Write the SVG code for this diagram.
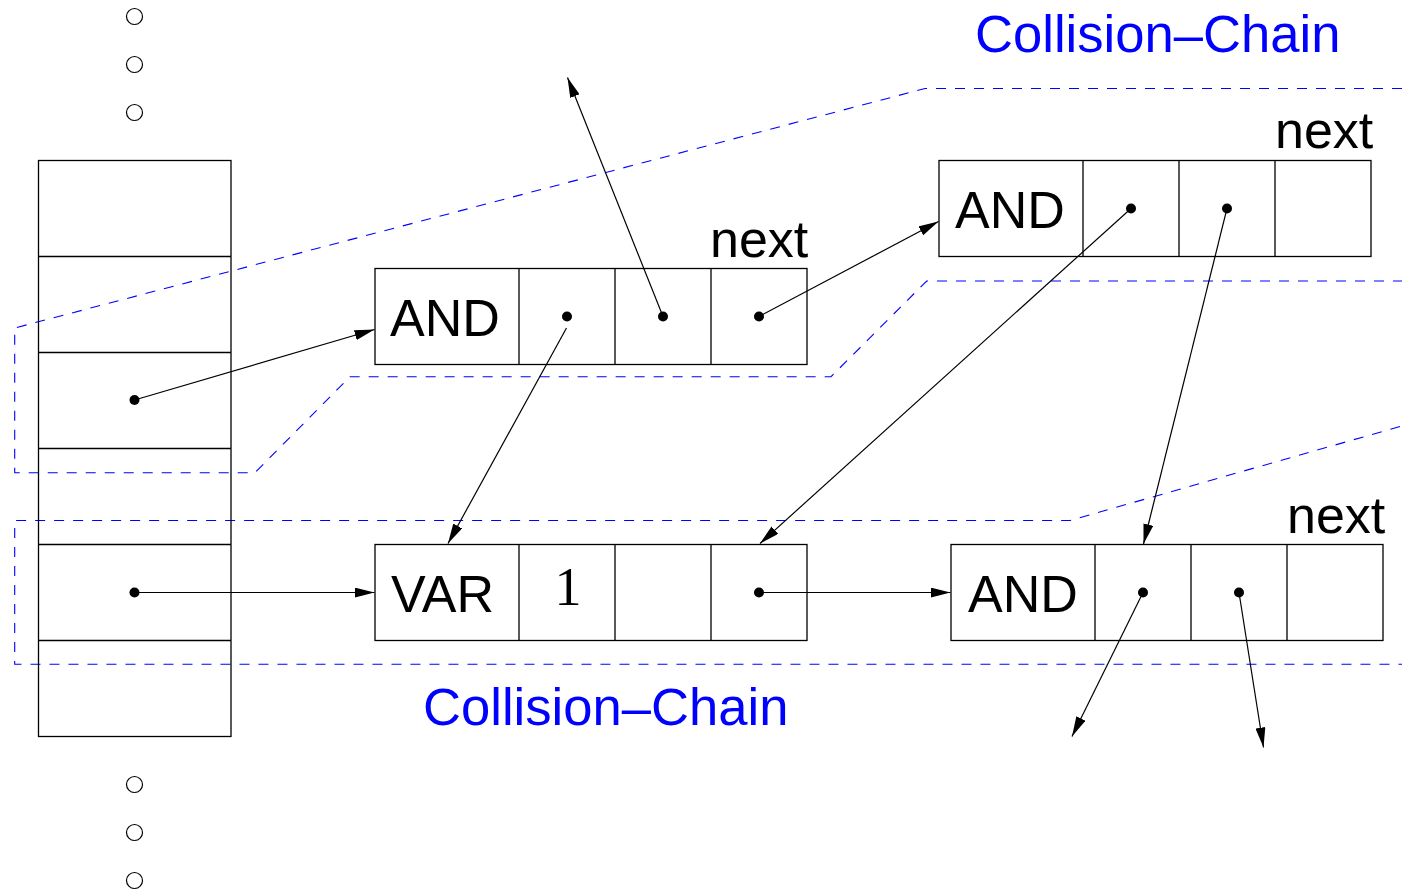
<svg xmlns="http://www.w3.org/2000/svg" width="1402" height="893" viewBox="0 0 1402 893">
<defs>
<style>
.box{fill:#fff;stroke:#000;stroke-width:1.3}
.tbl{fill:none;stroke:#000;stroke-width:1.3}
.cell{fill:none;stroke:#000;stroke-width:1.3}
.lbl{font-family:"Liberation Sans",Arial,sans-serif;font-size:52px;fill:#000}
.num{font-family:"Liberation Serif","Times New Roman",serif;font-size:54px;fill:#000}
.chain{font-family:"Liberation Sans",Arial,sans-serif;font-size:52.6px;fill:#0000ff}
.dash{fill:none;stroke:#0000ff;stroke-width:1.1;stroke-dasharray:10 9}
.arr{fill:none;stroke:#000;stroke-width:1.2;marker-end:url(#ah)}
.dot{fill:#000}
.ring{fill:none;stroke:#000;stroke-width:1.2}
</style>
<marker id="ah" viewBox="0 0 20 10" refX="20" refY="5" markerWidth="20" markerHeight="10" orient="auto" markerUnits="userSpaceOnUse">
<path d="M0,0 L20,5 L0,10 z" fill="#000"/>
</marker>
</defs>
<rect width="1402" height="893" fill="#fff"/>

<g id="dashed-chains">
<path class="dash" d="M1402,88.5 L925,88.5 L14.7,328 L14.7,472.7 L255,472.7 L350,376.7 L831,376.7 L926.7,281 L1402,281"/>
<path class="dash" d="M1400,426.5 L1070,520.5 L14.7,520.5 L14.7,664.3 L1402,664.3"/>
</g>

<g id="hash-table">
<rect class="tbl" x="38.5" y="160.5" width="192.5" height="576"/>
<path class="cell" d="M38.5,256.5 H231 M38.5,352.5 H231 M38.5,448.5 H231 M38.5,544.5 H231 M38.5,640.5 H231"/>
<circle class="dot" cx="134.5" cy="400" r="5"/>
<circle class="dot" cx="134.5" cy="592.5" r="5"/>
</g>

<g id="ellipsis-top">
<circle class="ring" cx="134.5" cy="16.5" r="8"/>
<circle class="ring" cx="134.5" cy="64.5" r="8"/>
<circle class="ring" cx="134.5" cy="112.5" r="8"/>
</g>
<g id="ellipsis-bottom">
<circle class="ring" cx="134.5" cy="784.5" r="8"/>
<circle class="ring" cx="134.5" cy="832.5" r="8"/>
<circle class="ring" cx="134.5" cy="880.5" r="8"/>
</g>

<g id="node-and-1">
<rect class="box" x="375" y="268.5" width="432" height="96"/>
<path class="cell" d="M519,268.5 V364.5 M615,268.5 V364.5 M711,268.5 V364.5"/>
<text class="lbl" x="390" y="336">AND</text>
<text class="lbl" x="710" y="256.5">next</text>
<circle class="dot" cx="567" cy="316.5" r="5"/>
<circle class="dot" cx="663" cy="316.5" r="5"/>
<circle class="dot" cx="759" cy="316.5" r="5"/>
</g>

<g id="node-and-2">
<rect class="box" x="939" y="160.5" width="432" height="96"/>
<path class="cell" d="M1083,160.5 V256.5 M1179,160.5 V256.5 M1275,160.5 V256.5"/>
<text class="lbl" x="955" y="228">AND</text>
<text class="lbl" x="1275" y="148">next</text>
<circle class="dot" cx="1131" cy="208.5" r="5"/>
<circle class="dot" cx="1227" cy="208.5" r="5"/>
</g>

<g id="node-var">
<rect class="box" x="375" y="544.5" width="432" height="96"/>
<path class="cell" d="M519,544.5 V640.5 M615,544.5 V640.5 M711,544.5 V640.5"/>
<text class="lbl" x="391" y="611.5">VAR</text>
<text class="num" x="568" y="605" text-anchor="middle">1</text>
<circle class="dot" cx="759" cy="592.5" r="5"/>
</g>

<g id="node-and-3">
<rect class="box" x="951" y="544.5" width="432" height="96"/>
<path class="cell" d="M1095,544.5 V640.5 M1191,544.5 V640.5 M1287,544.5 V640.5"/>
<text class="lbl" x="968" y="611.5">AND</text>
<text class="lbl" x="1287" y="532.5">next</text>
<circle class="dot" cx="1143" cy="592.5" r="5"/>
<circle class="dot" cx="1239" cy="592.5" r="5"/>
</g>

<g id="labels">
<text class="chain" x="975" y="52">Collision–Chain</text>
<text class="chain" x="423" y="725">Collision–Chain</text>
</g>

<g id="connectors">
<line class="arr" x1="134.5" y1="400" x2="374.5" y2="329.5"/>
<line class="arr" x1="134.5" y1="592.5" x2="374.5" y2="592.5"/>
<line class="arr" x1="566.5" y1="328" x2="448" y2="543.5"/>
<line class="arr" x1="663" y1="316.5" x2="567.5" y2="77.5"/>
<line class="arr" x1="759" y1="316.5" x2="938.5" y2="221.5"/>
<line class="arr" x1="1131" y1="208.5" x2="760" y2="543.5"/>
<line class="arr" x1="1227" y1="208.5" x2="1143.5" y2="544"/>
<line class="arr" x1="759" y1="592.5" x2="950.5" y2="592.5"/>
<line class="arr" x1="1143" y1="592.5" x2="1072" y2="736.5"/>
<line class="arr" x1="1239" y1="592.5" x2="1263.5" y2="747.5"/>
</g>
</svg>
